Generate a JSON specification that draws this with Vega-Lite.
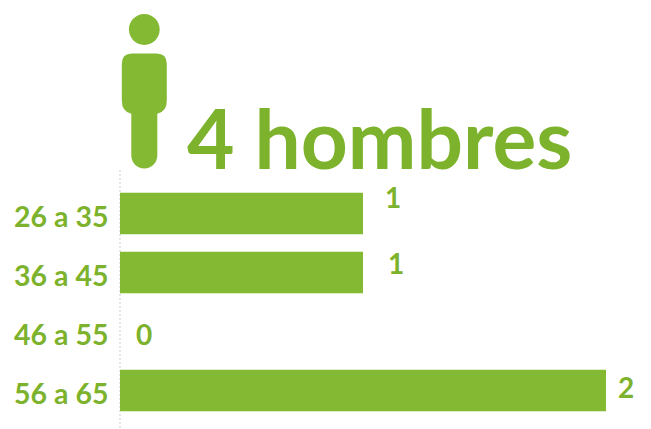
{
"$schema":"https://vega.github.io/schema/vega-lite/v6.json",
"autosize":"none",
"padding":{"left":120,"top":170,"right":0,"bottom":0},
"width":531,"height":259,
"background":"white",
"config":{"view":{"stroke":null}},
"title":{"text":"4 hombres","anchor":"start","frame":"group","dx":67,"dy":238,"offset":1,"baseline":"alphabetic","font":"Lato","fontWeight":"bold","fontSize":82,"color":"#7db22c"},
"data":{"values":[
{"age":"26 a 35","men":1},
{"age":"36 a 45","men":1},
{"age":"46 a 55","men":0},
{"age":"56 a 65","men":2}
]},
"encoding":{
"y":{"field":"age","type":"nominal","title":null,
"scale":{"domain":["26 a 35","36 a 45","46 a 55","56 a 65"],"range":[14,250],"paddingInner":0.3,"paddingOuter":0.15},
"axis":{"domain":false,"ticks":false,"grid":false,"labelFont":"Lato","labelFontWeight":"bold","labelFontSize":28.5,"labelColor":"#7db22c","labelPadding":12,"labelOffset":4}},
"x":{"field":"men","type":"quantitative","title":null,"axis":null,"scale":{"domain":[0,2],"range":[0,486]}}
},
"layer":[
{"mark":{"type":"rule","stroke":"#e6e6e6","strokeWidth":2,"strokeDash":[2,2]},"encoding":{"x":{"datum":0},"y":{"value":0},"y2":{"value":259}}},
{"mark":{"type":"bar","color":"#84b933"}},
{"transform":[{"filter":"datum.age==='26 a 35'"}],"mark":{"type":"text","font":"Lato","fontWeight":"bold","fontSize":28,"color":"#7db22c","dx":30,"dy":-14},"encoding":{"text":{"field":"men"}}},
{"transform":[{"filter":"datum.age==='36 a 45'"}],"mark":{"type":"text","font":"Lato","fontWeight":"bold","fontSize":28,"color":"#7db22c","dx":33,"dy":-7},"encoding":{"text":{"field":"men"}}},
{"transform":[{"filter":"datum.age==='46 a 55'"}],"mark":{"type":"text","font":"Lato","fontWeight":"bold","fontSize":28,"color":"#7db22c","dx":24,"dy":5},"encoding":{"text":{"field":"men"}}},
{"transform":[{"filter":"datum.age==='56 a 65'"}],"mark":{"type":"text","font":"Lato","fontWeight":"bold","fontSize":28,"color":"#7db22c","dx":20,"dy":-1},"encoding":{"text":{"field":"men"}}},
{"data":{"values":[{"age":"26 a 35","icon":0.1}]},
"mark":{"type":"point","filled":true,"opacity":1,"color":"#84b933","yOffset":-122,"size":23716,
"shape":"M -0.16 -0.494 L 0.16 -0.494 Q 0.292 -0.494 0.292 -0.36 L 0.292 0.12 Q 0.292 0.26 0.169 0.29 L 0.169 0.83 A 0.169 0.169 0 0 1 -0.169 0.83 L -0.169 0.29 Q -0.292 0.26 -0.292 0.12 L -0.292 -0.36 Q -0.292 -0.494 -0.16 -0.494 Z M -0.2 -0.805 A 0.2 0.2 0 1 1 0.2 -0.805 A 0.2 0.2 0 1 1 -0.2 -0.805 Z"},
"encoding":{"x":{"field":"icon","type":"quantitative"}}}
]
}
